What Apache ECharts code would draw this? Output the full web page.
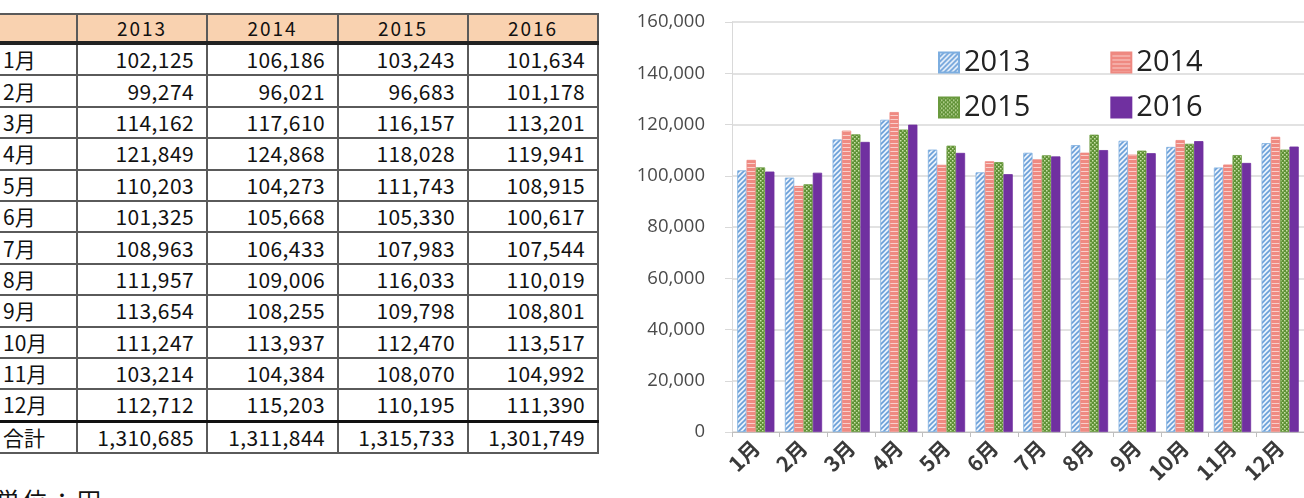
<!DOCTYPE html>
<html><head><meta charset="utf-8">
<script src="https://cdn.jsdelivr.net/npm/echarts@6/dist/echarts.min.js"></script>
<style>
html,body{margin:0;padding:0;width:1304px;height:498px;overflow:hidden;background:#fff;}
#chart{position:absolute;left:0;top:0;width:1304px;height:498px;}
#tbl{position:absolute;left:-2px;top:13px;border-collapse:collapse;font-family:"Noto Sans CJK JP",sans-serif;color:#111;table-layout:fixed;}
#tbl td{border:2px solid #5a5a5a;padding:0;height:29.4px;line-height:29px;font-size:21px;white-space:nowrap;overflow:hidden;}
#tbl td.num{text-align:right;padding-right:12px;letter-spacing:0.4px;}
#tbl td.lab{text-align:left;padding-left:3px;}
#tbl tr.hd td{background:#F9D2B0;text-align:center;font-size:19px;letter-spacing:2px;height:26px;line-height:26px;border-bottom:4px solid #222;}
#tbl tr.tot td{border-top:3px solid #111;}
#unit{position:absolute;left:-4px;top:482px;font-family:"Noto Sans CJK JP";font-size:24px;color:#111;letter-spacing:3px;}
</style>
</head><body>
<table id="tbl"></table>
<div id="unit">単位：円</div>
<div id="chart"></div>
<script>
const years = ['2013','2014','2015','2016'];
const months = ['1月','2月','3月','4月','5月','6月','7月','8月','9月','10月','11月','12月'];
const totalLabel = '合計';
const v2013 = [102125,99274,114162,121849,110203,101325,108963,111957,113654,111247,103214,112712];
const v2014 = [106186,96021,117610,124868,104273,105668,106433,109006,108255,113937,104384,115203];
const v2015 = [103243,96683,116157,118028,111743,105330,107983,116033,109798,112470,108070,110195];
const v2016 = [101634,101178,113201,119941,108915,100617,107544,110019,108801,113517,104992,111390];
const totals = [1310685,1311844,1315733,1301749];
const yTicks = [0,20000,40000,60000,80000,100000,120000,140000,160000];

const seriesVals = [v2013, v2014, v2015, v2016];
const fmt = n => n.toLocaleString('en-US');

// table
const tbl = document.getElementById('tbl');
const colW = [78,130,131,130,130];
let html = '<colgroup>' + colW.map(w=>'<col style="width:'+w+'px">').join('') + '</colgroup>';
html += '<tr class="hd"><td></td>' + years.map(y=>'<td>'+y+'</td>').join('') + '</tr>';
months.forEach((m,i)=>{
  html += '<tr><td class="lab">'+m+'</td>' + seriesVals.map(s=>'<td class="num">'+fmt(s[i])+'</td>').join('') + '</tr>';
});
html += '<tr class="tot"><td class="lab">'+totalLabel+'</td>' + totals.map(t=>'<td class="num">'+fmt(t)+'</td>').join('') + '</tr>';
tbl.innerHTML = html;

// patterns
function pat(w,h,draw){ const c=document.createElement('canvas'); c.width=w; c.height=h; const g=c.getContext('2d'); draw(g,w,h); return {image:c, repeat:'repeat'}; }
const p2013 = pat(5,5,(g,w,h)=>{ g.fillStyle='#EAF2FB'; g.fillRect(0,0,w,h); g.strokeStyle='#6A9FD8'; g.lineWidth=1.6;
  g.beginPath(); g.moveTo(-1,h+1); g.lineTo(w+1,-1); g.moveTo(-1,1); g.lineTo(1,-1); g.moveTo(w-1,h+1); g.lineTo(w+1,h-1); g.stroke(); });
const p2014 = pat(4,4,(g,w,h)=>{ g.fillStyle='#EF8A82'; g.fillRect(0,0,w,h); g.fillStyle='#F9CFCB'; g.fillRect(0,3,w,1); });
const p2015 = pat(4,4,(g,w,h)=>{ g.fillStyle='#5E9035'; g.fillRect(0,0,w,h); g.fillStyle='#C9E2A8'; g.fillRect(0,0,1.5,1.5); g.fillRect(2,2,1.5,1.5); });
const colors = [p2013, p2014, p2015, '#7030A0'];
const borders = ['#7DAEE0','#EE8880','#6A9A3E','#7030A0'];

const chart = echarts.init(document.getElementById('chart'), null, {renderer:'canvas'});
const legendText = {fontSize:29, fontFamily:'Open Sans', color:'#222'};
chart.setOption({
  animation:false,
  grid:{left:732, top:22, bottom:66, right:-6, containLabel:false},
  legend:[
    {data:['2013','2014'], left:933, top:43, itemWidth:20, itemHeight:20, itemGap:80, textStyle:legendText, icon:'rect'},
    {data:['2015','2016'], left:933, top:88, itemWidth:20, itemHeight:20, itemGap:80, textStyle:legendText, icon:'rect'}
  ],
  xAxis:{type:'category', data:months,
    axisLine:{lineStyle:{color:'#BFBFBF', width:1}},
    axisTick:{show:true, length:5, lineStyle:{color:'#BFBFBF'}},
    axisLabel:{rotate:45, fontSize:21, fontFamily:'Noto Sans CJK JP', fontWeight:'bold', color:'#3a3a3a', margin:12, interval:0}
  },
  yAxis:{type:'value', min:yTicks[0], max:yTicks[yTicks.length-1], interval:yTicks[1]-yTicks[0],
    axisLine:{show:true, lineStyle:{color:'#D9D9D9'}},
    axisTick:{show:true, length:7, lineStyle:{color:'#D9D9D9'}},
    splitLine:{lineStyle:{color:'#D9D9D9', width:1.5}},
    axisLabel:{fontSize:18.5, fontFamily:'Open Sans', color:'#4a4a4a', margin:27, formatter:v=>fmt(v)}
  },
  series: years.map((y,i)=>({
    name:y, type:'bar', data:seriesVals[i], barGap:'0%', barCategoryGap:'22%',
    itemStyle:{color:colors[i], borderColor:borders[i], borderWidth:0.8}
  }))
});
</script>
</body></html>
